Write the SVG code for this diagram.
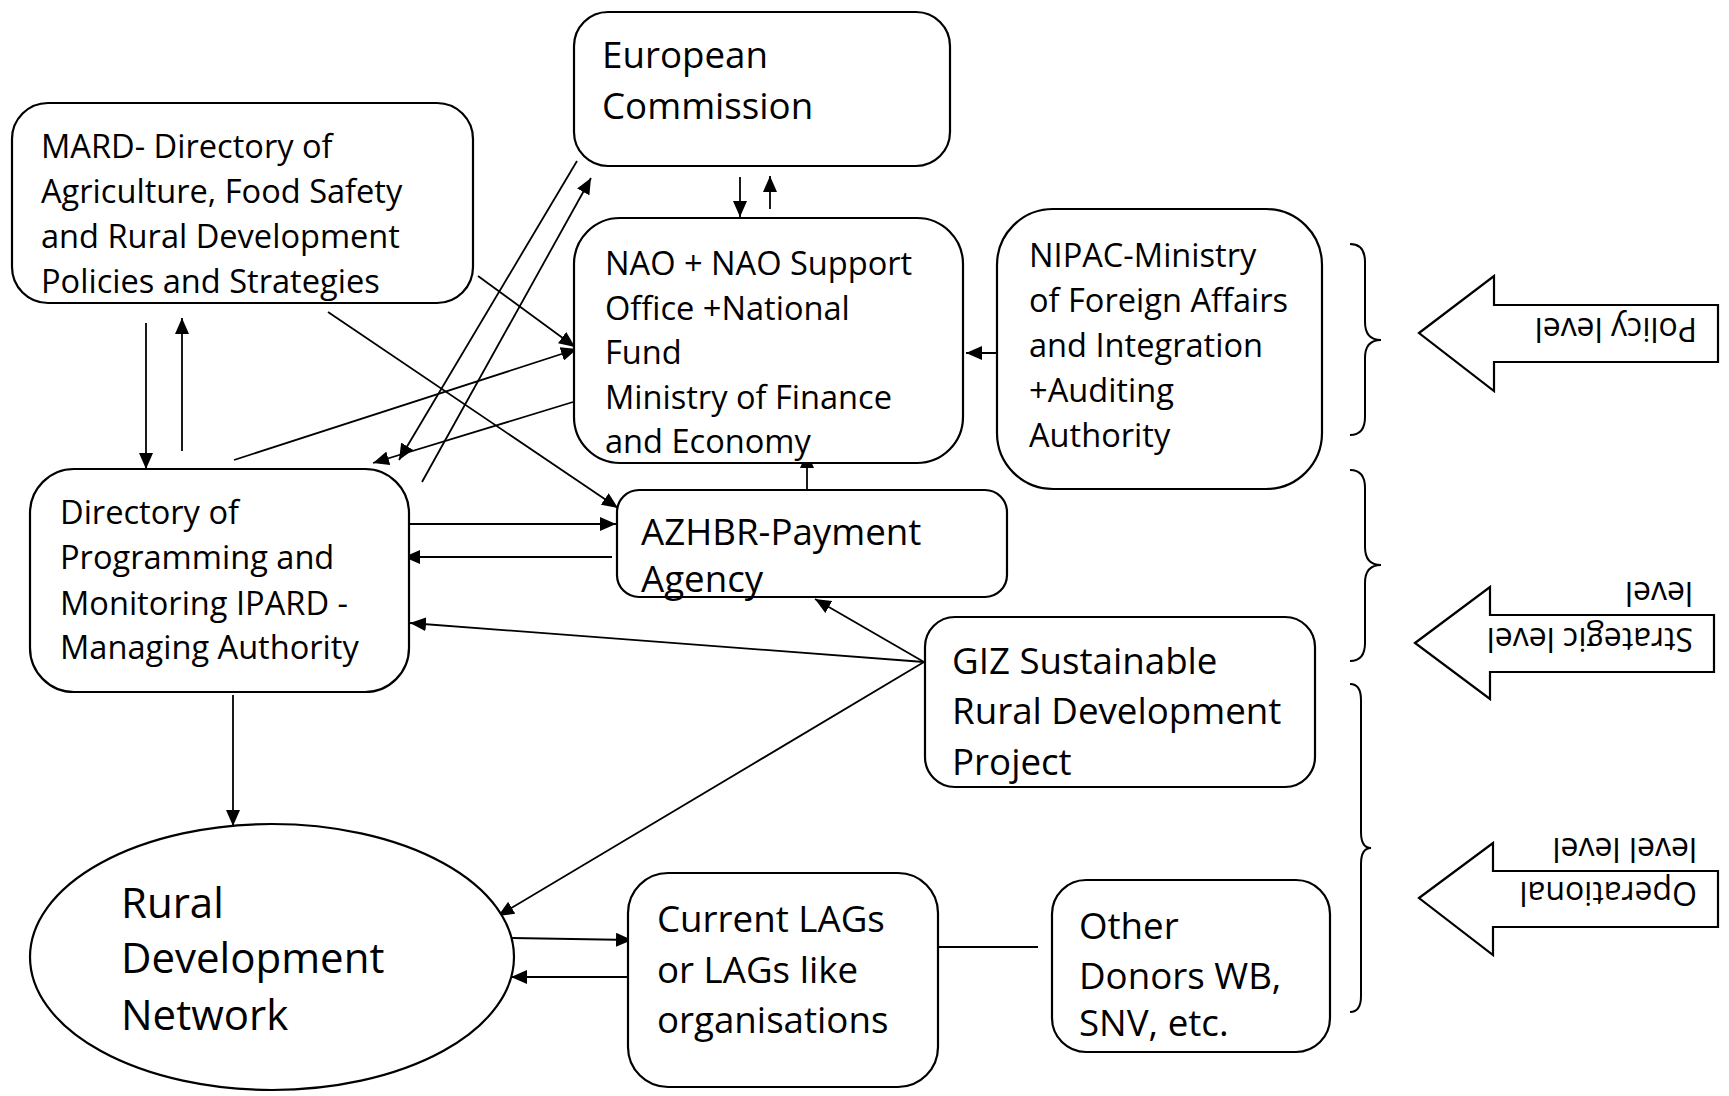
<svg xmlns="http://www.w3.org/2000/svg" width="1729" height="1096" viewBox="0 0 1729 1096">
  <defs>
    <style>
      .box { fill: #ffffff; stroke: #000000; stroke-width: 2.2; }
      .edge { fill: none; stroke: #000000; stroke-width: 1.8; }
      .lbl { font-family: "Open Sans", "Noto Sans", sans-serif; fill: #000000; }
      .s31 { font-size: 32.6px; }
      .s35 { font-size: 36.7px; }
      .s40 { font-size: 42px; }
      .lvl { font-family: "Open Sans", "Noto Sans", sans-serif; font-size: 32px; fill: #000000; }
      .brace { fill: none; stroke: #000000; stroke-width: 2; }
      .block { fill: #ffffff; stroke: #000000; stroke-width: 2.2; }
    </style>
    <marker id="arrow" markerUnits="userSpaceOnUse" markerWidth="17" markerHeight="14" refX="16" refY="7" orient="auto">
      <path d="M0,0 L16,7 L0,14 Z" fill="#000000"/>
    </marker>
  </defs>

  <!-- connectors -->
  <g id="connectors">
    <line class="edge" x1="146" y1="323" x2="146" y2="469" marker-end="url(#arrow)"/>
    <line class="edge" x1="182" y1="451" x2="182" y2="318" marker-end="url(#arrow)"/>
    <line class="edge" x1="478" y1="276" x2="575" y2="347" marker-end="url(#arrow)"/>
    <line class="edge" x1="328" y1="312" x2="618" y2="508" marker-end="url(#arrow)"/>
    <line class="edge" x1="234" y1="460" x2="577" y2="349" marker-end="url(#arrow)"/>
    <line class="edge" x1="573" y1="402" x2="373" y2="463" marker-end="url(#arrow)"/>
    <line class="edge" x1="577" y1="161" x2="399" y2="460" marker-end="url(#arrow)"/>
    <line class="edge" x1="422" y1="482" x2="591" y2="178" marker-end="url(#arrow)"/>
    <line class="edge" x1="740" y1="177" x2="740" y2="217" marker-end="url(#arrow)"/>
    <line class="edge" x1="770" y1="209" x2="770" y2="176" marker-end="url(#arrow)"/>
    <line class="edge" x1="1002" y1="353" x2="966" y2="353" marker-end="url(#arrow)"/>
    <line class="edge" x1="807" y1="489" x2="807" y2="452" marker-end="url(#arrow)"/>
    <line class="edge" x1="409" y1="524" x2="616" y2="524" marker-end="url(#arrow)"/>
    <line class="edge" x1="612" y1="557" x2="404" y2="557" marker-end="url(#arrow)"/>
    <line class="edge" x1="924" y1="662" x2="410" y2="623" marker-end="url(#arrow)"/>
    <line class="edge" x1="924" y1="662" x2="815" y2="599" marker-end="url(#arrow)"/>
    <line class="edge" x1="924" y1="662" x2="498" y2="916" marker-end="url(#arrow)"/>
    <line class="edge" x1="233" y1="695" x2="233" y2="826" marker-end="url(#arrow)"/>
    <line class="edge" x1="512" y1="938" x2="632" y2="940" marker-end="url(#arrow)"/>
    <line class="edge" x1="627" y1="977" x2="511" y2="977" marker-end="url(#arrow)"/>
    <line class="edge" x1="939" y1="947" x2="1038" y2="947"/>
  </g>

  <!-- nodes -->
  <g id="mard">
    <rect class="box" x="12" y="103" width="461" height="200" rx="36"/>
    <text class="lbl s31" x="41" y="158">MARD- Directory of</text>
    <text class="lbl s31" x="41" y="203">Agriculture, Food Safety</text>
    <text class="lbl s31" x="41" y="248">and Rural Development</text>
    <text class="lbl s31" x="41" y="293">Policies and Strategies</text>
  </g>

  <g id="european-commission">
    <rect class="box" x="574" y="12" width="376" height="154" rx="34"/>
    <text class="lbl s35" x="602" y="68">European</text>
    <text class="lbl s35" x="602" y="119">Commission</text>
  </g>

  <g id="nao">
    <rect class="box" x="574" y="218" width="389" height="245" rx="46"/>
    <text class="lbl s31" x="605" y="275">NAO + NAO Support</text>
    <text class="lbl s31" x="605" y="320">Office +National</text>
    <text class="lbl s31" x="605" y="364">Fund</text>
    <text class="lbl s31" x="605" y="409">Ministry of Finance</text>
    <text class="lbl s31" x="605" y="453">and Economy</text>
  </g>

  <g id="nipac">
    <rect class="box" x="997" y="209" width="325" height="280" rx="56"/>
    <text class="lbl s31" x="1029" y="267">NIPAC-Ministry</text>
    <text class="lbl s31" x="1029" y="312">of Foreign Affairs</text>
    <text class="lbl s31" x="1029" y="357">and Integration</text>
    <text class="lbl s31" x="1029" y="402">+Auditing</text>
    <text class="lbl s31" x="1029" y="447">Authority</text>
  </g>

  <g id="managing-authority">
    <rect class="box" x="30" y="469" width="379" height="223" rx="44"/>
    <text class="lbl s31" x="60" y="524">Directory of</text>
    <text class="lbl s31" x="60" y="569">Programming and</text>
    <text class="lbl s31" x="60" y="615">Monitoring IPARD -</text>
    <text class="lbl s31" x="60" y="659">Managing Authority</text>
  </g>

  <g id="payment-agency">
    <rect class="box" x="617" y="490" width="390" height="107" rx="22"/>
    <text class="lbl s35" x="641" y="545">AZHBR-Payment</text>
    <text class="lbl s35" x="641" y="592">Agency</text>
  </g>

  <g id="giz">
    <rect class="box" x="925" y="617" width="390" height="170" rx="30"/>
    <text class="lbl s35" x="952" y="674">GIZ Sustainable</text>
    <text class="lbl s35" x="952" y="724">Rural Development</text>
    <text class="lbl s35" x="952" y="775">Project</text>
  </g>

  <g id="rural-network">
    <ellipse class="box" cx="272" cy="957" rx="242" ry="133"/>
    <text class="lbl s40" x="121" y="918">Rural</text>
    <text class="lbl s40" x="121" y="973">Development</text>
    <text class="lbl s40" x="121" y="1030">Network</text>
  </g>

  <g id="lags">
    <rect class="box" x="628" y="873" width="310" height="214" rx="40"/>
    <text class="lbl s35" x="657" y="932">Current LAGs</text>
    <text class="lbl s35" x="657" y="983">or LAGs like</text>
    <text class="lbl s35" x="657" y="1033">organisations</text>
  </g>

  <g id="other-donors">
    <rect class="box" x="1052" y="880" width="278" height="172" rx="34"/>
    <text class="lbl s35" x="1079" y="939">Other</text>
    <text class="lbl s35" x="1079" y="989">Donors WB,</text>
    <text class="lbl s35" x="1079" y="1036">SNV, etc.</text>
  </g>

  <!-- level brackets and arrows -->
  <g id="policy-level">
    <path class="brace" d="M1350,244 Q1365,244 1365,262 L1365,322 Q1365,340 1381,340 Q1365,340 1365,358 L1365,417 Q1365,435 1350,435"/>
    <polygon class="block" points="1419,333 1494,276 1494,305 1718,305 1718,362 1494,362 1494,391"/>
    <text class="lvl" transform="translate(1697,318) rotate(180)">Policy level</text>
  </g>

  <g id="strategic-level">
    <path class="brace" d="M1350,470 Q1365,470 1365,488 L1365,547 Q1365,565 1381,565 Q1365,565 1365,583 L1365,643 Q1365,661 1350,661"/>
    <polygon class="block" points="1415,643 1490,587 1490,615 1714,615 1714,672 1490,672 1490,699"/>
    <text class="lvl" transform="translate(1693,628) rotate(180)">
      <tspan x="0" y="0">Strategic level</tspan>
      <tspan x="0" y="46">level</tspan>
    </text>
  </g>

  <g id="operational-level">
    <path class="brace" d="M1350,684 Q1361,684 1361,700 L1361,832 Q1361,848 1371,848 Q1361,848 1361,864 L1361,996 Q1361,1012 1350,1012"/>
    <polygon class="block" points="1419,898 1493,843 1493,871 1718,871 1718,927 1493,927 1493,955"/>
    <text class="lvl" transform="translate(1697,882) rotate(180)">
      <tspan x="0" y="0">Operational</tspan>
      <tspan x="0" y="44">level level</tspan>
    </text>
  </g>
</svg>
